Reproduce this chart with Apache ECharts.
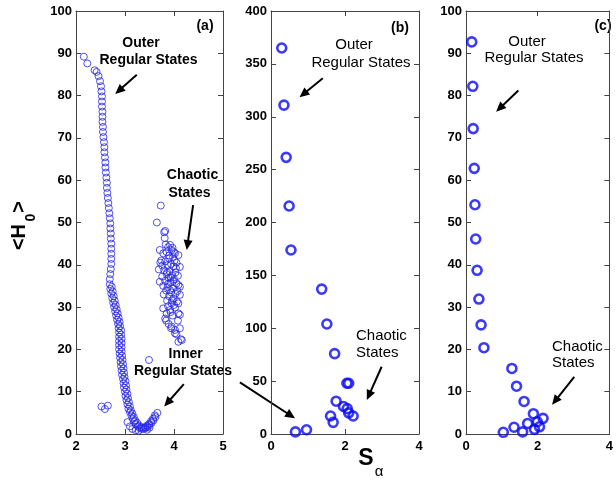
<!DOCTYPE html>
<html><head><meta charset="utf-8">
<script src="https://cdn.jsdelivr.net/npm/echarts@6/dist/echarts.min.js"></script>
<style>html,body{margin:0;padding:0;background:#fff}#c{width:616px;height:480px}</style>
</head><body><div id="c"></div>
<script>
// Panel (a): outer/inner regular states (main strand)
const regularA1 = [[2.16,89.2],[2.23,87.6],[2.38,86.0],[2.42,85.6],[2.46,84.6],[2.49,83.4],[2.51,82.2],[2.52,81.0],[2.53,79.8],[2.53,78.6],[2.53,77.4],[2.54,76.2],[2.54,75.0],[2.54,73.8],[2.55,72.6],[2.55,71.4],[2.56,70.2],[2.57,69.0],[2.58,67.8],[2.58,66.6],[2.59,65.4],[2.60,64.2],[2.60,63.0],[2.61,61.8],[2.62,60.6],[2.63,59.4],[2.63,58.2],[2.64,57.0],[2.65,55.8],[2.66,54.6],[2.67,53.4],[2.68,52.2],[2.69,51.0],[2.70,49.8],[2.70,48.6],[2.71,47.4],[2.71,46.2],[2.72,45.0],[2.72,43.8],[2.72,42.6],[2.72,41.4],[2.72,40.2],[2.71,39.0],[2.70,37.8],[2.69,36.6],[2.69,35.4],[2.70,34.3],[2.72,33.2],[2.74,32.1],[2.76,31.0],[2.78,30.0],[2.80,29.0],[2.82,28.0],[2.84,27.0],[2.86,26.0],[2.87,25.0],[2.88,24.0],[2.88,23.0],[2.88,22.0],[2.88,21.0],[2.88,20.0],[2.89,19.0],[2.90,18.0],[2.91,17.0],[2.92,16.0],[2.93,15.0],[2.94,14.0],[2.96,13.0],[2.97,12.0],[2.98,11.0],[3.00,10.0],[3.01,9.0],[3.03,8.0],[3.05,7.0],[3.07,6.0],[3.10,5.2],[3.13,4.4],[3.16,3.6],[3.19,2.9],[3.22,2.3],[3.26,1.8],[3.30,1.4],[3.34,1.2],[3.38,1.2],[3.42,1.4],[3.46,1.7],[3.50,2.1],[3.54,2.6],[3.58,3.2],[3.62,4.0],[3.66,5.0]];
// Panel (a): second strand of regular states
const regularA2 = [[2.73,34.8],[2.75,33.7],[2.77,32.6],[2.79,31.5],[2.81,30.5],[2.83,29.5],[2.85,28.5],[2.87,27.5],[2.89,26.5],[2.90,25.5],[2.92,24.5],[2.92,23.5],[2.93,22.5],[2.93,21.5],[2.93,20.5],[2.93,19.5],[2.94,18.5],[2.95,17.5],[2.96,16.5],[2.97,15.5],[2.98,14.5],[2.99,13.5],[3.01,12.5],[3.02,11.5],[3.03,10.5],[3.05,9.5],[3.06,8.5],[3.08,7.5],[3.10,6.5],[3.12,5.6],[3.15,4.8],[3.18,4.0],[3.21,3.2],[3.25,2.6],[3.29,2.0],[3.33,1.6],[3.37,1.5],[3.41,1.6],[3.45,2.0],[3.49,2.4],[3.53,3.0],[3.57,3.6],[3.61,4.4],[3.05,2.8],[3.10,1.8],[3.15,1.2],[3.22,0.9],[3.28,0.8],[3.45,1.0],[3.50,1.5]];
// Panel (a): isolated points
const outliersA = [[2.52,6.5],[2.59,5.9],[2.65,6.7],[3.49,17.5]];
// Panel (a): chaotic states
const chaoticA = [[3.73,54.0],[3.65,50.0],[3.80,47.7],[3.81,46.3],[3.82,48.0],[3.92,44.7],[3.88,44.2],[3.71,43.5],[3.78,42.7],[4.02,42.7],[4.09,42.3],[3.85,43.0],[3.95,43.5],[3.98,41.8],[3.90,41.5],[3.74,41.0],[3.82,40.8],[4.05,40.5],[3.94,40.2],[3.87,39.9],[4.12,39.5],[3.99,39.6],[3.69,38.9],[3.80,38.7],[3.91,38.5],[4.03,38.2],[3.85,37.8],[3.96,37.5],[4.08,37.4],[3.76,37.2],[3.89,36.9],[4.00,36.6],[3.71,36.0],[3.82,36.2],[3.93,35.8],[4.05,35.6],[4.09,35.2],[3.78,35.0],[3.87,34.7],[3.98,34.4],[4.12,34.8],[3.84,33.9],[3.94,33.5],[4.03,33.2],[4.12,32.9],[3.90,32.6],[3.99,32.0],[3.86,31.5],[4.06,31.3],[3.95,30.9],[4.09,30.9],[3.78,29.7],[3.92,29.3],[4.02,29.9],[3.85,28.5],[4.09,28.5],[4.12,28.2],[3.97,28.0],[3.82,27.3],[3.84,26.8],[3.95,25.4],[4.02,24.6],[4.12,25.0],[3.94,25.0],[4.02,23.8],[4.05,23.6],[4.09,21.8],[4.14,22.4],[4.16,22.2],[3.90,42.2],[3.97,44.0],[3.76,39.8],[4.00,43.0],[3.93,37.0],[4.04,39.2],[3.88,35.5],[3.79,33.0],[4.07,33.8],[3.96,31.6],[3.88,30.2],[3.72,40.5],[4.01,41.0],[3.86,38.2],[3.98,36.2],[3.92,34.0],[4.00,30.5],[3.83,44.8],[4.08,26.8],[3.89,26.0],[3.93,28.8]];
// Panel (b)
const pointsB = [[0.29,365],[0.35,311],[0.41,261.6],[0.49,215.6],[0.54,174],[1.37,137],[1.51,104],[1.72,76],[2.05,48],[2.10,48],[1.76,31],[1.96,26],[2.06,24],[2.10,20],[2.22,17],[1.61,17],[1.68,11],[0.66,2],[0.96,4]];
// Panel (c)
const pointsC = [[0.16,92.7],[0.19,82.2],[0.20,72.2],[0.23,62.8],[0.25,54.2],[0.27,46.1],[0.31,38.7],[0.36,31.9],[0.42,25.8],[0.50,20.4],[1.28,15.5],[1.41,11.3],[1.62,7.7],[1.88,4.8],[2.15,3.7],[1.99,2.9],[1.72,2.5],[2.05,1.7],[1.34,1.6],[1.91,1.1],[1.04,0.4],[1.58,0.5]];

// axis ranges
const rangesX = [[2,5,1],[0,4,2],[0,4,2]];
const rangesY = [[0,100,10],[0,400,50],[0,100,10]];

const FONT = 'Liberation Sans, Arial, Helvetica, sans-serif';
const gridsLayout = [{left:76,width:147},{left:271,width:148},{left:466,width:147}];
const axisColor = '#444';

const grids = gridsLayout.map(g => ({left:g.left, width:g.width, top:11, height:423, containLabel:false}));
const xAxes = [], yAxes = [];
[0,1,2].forEach(i => {
  xAxes.push({type:'value', gridIndex:i, position:'bottom', min:rangesX[i][0], max:rangesX[i][1], interval:rangesX[i][2],
    axisLine:{onZero:false, lineStyle:{color:axisColor,width:1}}, axisTick:{inside:true,length:5,lineStyle:{color:axisColor}},
    axisLabel:{margin:6,color:'#000',fontWeight:'bold',fontSize:13,fontFamily:FONT}, splitLine:{show:false}});
  yAxes.push({type:'value', gridIndex:i, position:'left', min:rangesY[i][0], max:rangesY[i][1], interval:rangesY[i][2],
    axisLine:{onZero:false, lineStyle:{color:axisColor,width:1}}, axisTick:{inside:true,length:5,lineStyle:{color:axisColor}},
    axisLabel:{margin:4,color:'#000',fontWeight:'bold',fontSize:13,fontFamily:FONT}, splitLine:{show:false}});
});
[0,1,2].forEach(i => {
  xAxes.push({type:'value', gridIndex:i, position:'top', min:rangesX[i][0], max:rangesX[i][1], interval:rangesX[i][2],
    axisLine:{onZero:false, lineStyle:{color:axisColor,width:1}}, axisTick:{inside:true,length:5,lineStyle:{color:axisColor}},
    axisLabel:{show:false}, splitLine:{show:false}});
  yAxes.push({type:'value', gridIndex:i, position:'right', min:rangesY[i][0], max:rangesY[i][1], interval:rangesY[i][2],
    axisLine:{onZero:false, lineStyle:{color:axisColor,width:1}}, axisTick:{inside:true,length:5,lineStyle:{color:axisColor}},
    axisLabel:{show:false}, splitLine:{show:false}});
});

const thin = {color:'rgba(0,0,0,0)', borderColor:'#2626e6', borderWidth:1};
const thick = {color:'rgba(0,0,0,0)', borderColor:'#0a0af5', borderWidth:2.6};
const series = [
  {type:'scatter', xAxisIndex:0, yAxisIndex:0, data:regularA1, symbol:'circle', symbolSize:7, itemStyle:thin, silent:true},
  {type:'scatter', xAxisIndex:1, yAxisIndex:1, data:pointsB, symbol:'circle', symbolSize:9, itemStyle:thick, silent:true},
  {type:'scatter', xAxisIndex:2, yAxisIndex:2, data:pointsC, symbol:'circle', symbolSize:9, itemStyle:thick, silent:true},
  {type:'scatter', xAxisIndex:0, yAxisIndex:0, data:regularA2, symbol:'circle', symbolSize:7, itemStyle:thin, silent:true},
  {type:'scatter', xAxisIndex:0, yAxisIndex:0, data:outliersA, symbol:'circle', symbolSize:7, itemStyle:thin, silent:true},
  {type:'scatter', xAxisIndex:0, yAxisIndex:0, data:chaoticA, symbol:'circle', symbolSize:7, itemStyle:thin, silent:true}
];

const chart = echarts.init(document.getElementById('c'), null, {renderer:'canvas'});
chart.setOption({animation:false, backgroundColor:'#fff', grid:grids, xAxis:xAxes, yAxis:yAxes, series:series});

// annotation arrows in data coordinates: [panel, x1, y1, x2, y2]
const arrows = [
  [0,3.24,84.9,2.80,80.4],[0,4.39,54.1,4.26,43.5],[0,4.20,11.8,3.80,6.5],
  [1,1.40,336.4,0.77,318.4],[1,2.99,63.6,2.59,32.2],[1,-0.84,48.9,0.65,14.8],
  [2,1.46,81.2,0.84,76.2],[2,3.02,13.5,2.40,6.9]
];
const graphics = [];
arrows.forEach(a => {
  const p1 = chart.convertToPixel({seriesIndex:a[0]}, [a[1],a[2]]);
  const p2 = chart.convertToPixel({seriesIndex:a[0]}, [a[3],a[4]]);
  const dx = p2[0]-p1[0], dy = p2[1]-p1[1], L = Math.hypot(dx,dy);
  const ux = dx/L, uy = dy/L, hl = 10, hw = 4.5;
  const bx = p2[0]-ux*hl, by = p2[1]-uy*hl;
  graphics.push({type:'line', shape:{x1:p1[0],y1:p1[1],x2:bx+ux*2,y2:by+uy*2}, style:{stroke:'#000',lineWidth:2}, silent:true});
  graphics.push({type:'polygon', shape:{points:[[p2[0],p2[1]],[bx-uy*hw,by+ux*hw],[bx+uy*hw,by-ux*hw]]}, style:{fill:'#000'}, silent:true});
});
function txt(s, x, y, opts) {
  opts = opts || {};
  graphics.push({type:'text', x:x, y:y, rotation:opts.rot||0, silent:true,
    style:{text:s, fill:'#000', font:(opts.w||'bold')+' '+(opts.size||14)+'px '+FONT, textAlign:opts.align||'center', textVerticalAlign:'middle'}});
}
// panel (a)
txt('(a)',205,26);
txt('Outer',141,43);
txt('Regular States',148.5,60);
txt('Chaotic',192.5,175);
txt('States',189.5,193);
txt('Inner',185.6,354);
txt('Regular States',183,371);
// panel (b)
txt('(b)',400,28);
txt('Outer',354,45,{w:'normal',size:15});
txt('Regular States',361,63,{w:'normal',size:15});
txt('Chaotic',356,336,{w:'normal',size:15,align:'left'});
txt('States',356,353,{w:'normal',size:15,align:'left'});
// panel (c)
txt('(c)',603,26);
txt('Outer',527,42,{w:'normal',size:15});
txt('Regular States',534,58,{w:'normal',size:15});
txt('Chaotic',552,347,{w:'normal',size:15,align:'left'});
txt('States',552,363,{w:'normal',size:15,align:'left'});
// axis titles
txt('<H',19,237,{size:20,rot:Math.PI/2});
txt('0',31,217.5,{size:14,rot:Math.PI/2});
txt('>',19,207,{size:20,rot:Math.PI/2});
txt('S',366,459,{size:23});
txt('α',379,472,{size:15,w:'normal'});
chart.setOption({graphic:graphics});
</script></body></html>
